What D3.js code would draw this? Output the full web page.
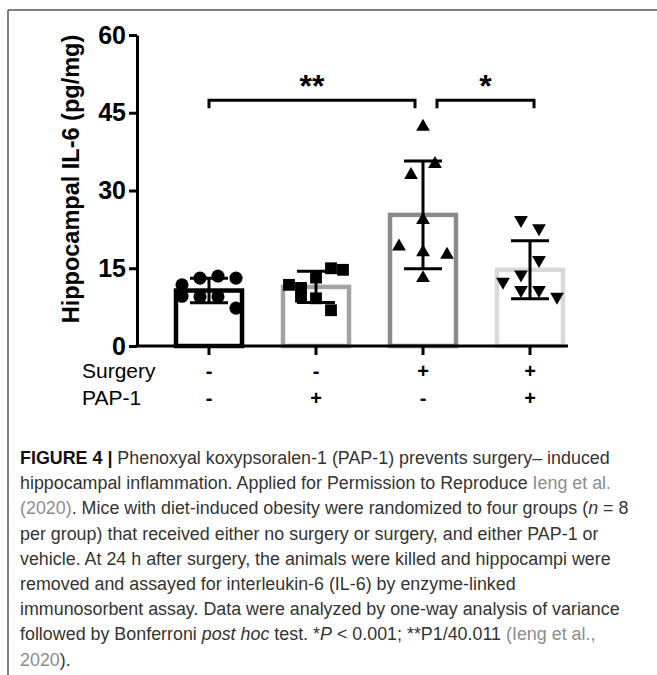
<!DOCTYPE html>
<html>
<head>
<meta charset="utf-8">
<script src="https://cdn.jsdelivr.net/npm/d3@7"></script>
<style>
  body { margin: 0; background: #fff; }
  svg { display: block; }
</style>
</head>
<body>
<div id="chart"></div>
<script>
// Groups and the treatment table under the x axis
const groups = ["Sham + Vehicle", "Sham + PAP-1", "Surgery + Vehicle", "Surgery + PAP-1"];
const surgeryRow = ["-", "-", "+", "+"];
const papRow = ["-", "+", "-", "+"];

// Bar height (mean) and error bar (SD), pg/mg
const means = [10.7, 11.4, 25.3, 14.7];
const sds = [2.35, 3.0, 10.4, 5.6];

// Individual animals (n = 8 per group)
const shamVehicle = [13.1, 13.5, 13.1, 11.8, 9.6, 9.5, 9.5, 7.3];
const shamPap = [11.8, 11.2, 13.2, 15.0, 14.7, 9.5, 9.2, 6.9];
const surgeryVehicle = [42.3, 35.1, 33.0, 24.3, 19.2, 18.1, 17.6, 13.1];
const surgeryPap = [24.3, 22.7, 16.6, 13.8, 12.4, 10.8, 10.8, 9.5];

// scatter column of each animal (Prism style spread, in half-marker steps)
const shamVehicleCol = [-1.5, 1.5, 4.5, -4.5, -4.5, -1.5, 1.5, 4.5];
const shamPapCol = [-4.5, -2.5, 0, 2.5, 4.5, -2.5, 0, 2.5];
const surgeryVehicleCol = [0, 2, -2, 0, -4, 0, 4, 0];
const surgeryPapCol = [-1.5, 1.5, 1.5, -1.5, -4.5, -1.5, 1.5, 4.5];

const yTicks = [0, 15, 30, 45, 60];

// significance brackets
const comparisons = [
  { from: 0, to: 2, label: "**" },
  { from: 2, to: 3, label: "*" }
];

document.addEventListener("DOMContentLoaded", function () {
  const W = 657, H = 675;

  const svg = d3.select("#chart")
    .append("svg")
    .attr("width", W)
    .attr("height", H);

  // frame of the figure (top and left edges only are visible)
  svg.append("line").attr("x1", 8).attr("x2", W).attr("y1", 10).attr("y2", 10)
    .attr("stroke", "#555").attr("stroke-width", 1.5);
  svg.append("line").attr("x1", 8).attr("x2", 8).attr("y1", 10).attr("y2", H)
    .attr("stroke", "#555").attr("stroke-width", 1.5);

  const font = "'Liberation Sans', Arial, Helvetica, sans-serif";

  // scales
  const y = d3.scaleLinear().domain([0, 60]).range([346, 35]);
  const x = d3.scalePoint().domain(d3.range(groups.length)).range([209, 530]);
  const axisLeftX = 137, axisRightX = 568;

  const barColors = ["#000000", "#a3a3a3", "#8a8a8a", "#d9d9d9"];
  const barW = 66;

  // bars
  svg.selectAll("rect.bar")
    .data(means)
    .join("rect")
    .attr("class", "bar")
    .attr("x", (d, i) => x(i) - barW / 2)
    .attr("y", d => y(d))
    .attr("width", barW)
    .attr("height", d => y(0) - y(d))
    .attr("fill", "#fff")
    .attr("stroke", (d, i) => barColors[i])
    .attr("stroke-width", 4.5);

  // individual points
  const pointSets = [shamVehicle, shamPap, surgeryVehicle, surgeryPap];
  const pointCols = [shamVehicleCol, shamPapCol, surgeryVehicleCol, surgeryPapCol];
  const symbols = [d3.symbolCircle, d3.symbolSquare, d3.symbolTriangle, d3.symbolTriangle];
  const symSize = [135, 140, 82, 82];
  const colStep = 6;

  const pts = [];
  pointSets.forEach((set, g) => {
    set.forEach((v, k) => pts.push({ g: g, v: v, c: pointCols[g][k] }));
  });

  svg.append("g")
    .selectAll("path")
    .data(pts)
    .join("path")
    .attr("d", d => d3.symbol().type(symbols[d.g]).size(symSize[d.g])())
    .attr("transform", d => `translate(${x(d.g) + d.c * colStep},${y(d.v)})` + (d.g === 3 ? " rotate(180)" : ""))
    .attr("fill", "#000");

  // error bars (mean +/- SD)
  const capW = 38;
  const eb = svg.append("g").attr("stroke", "#000").attr("stroke-width", 3);
  means.forEach((m, i) => {
    const top = y(m + sds[i]), bot = y(m - sds[i]);
    eb.append("line").attr("x1", x(i)).attr("x2", x(i)).attr("y1", top).attr("y2", bot);
    eb.append("line").attr("x1", x(i) - capW / 2).attr("x2", x(i) + capW / 2).attr("y1", top).attr("y2", top);
    eb.append("line").attr("x1", x(i) - capW / 2).attr("x2", x(i) + capW / 2).attr("y1", bot).attr("y2", bot);
  });

  // y axis
  const yAxis = svg.append("g")
    .attr("transform", `translate(${axisLeftX},0)`)
    .call(d3.axisLeft(y).tickValues(yTicks).tickSize(8).tickPadding(3).tickSizeOuter(0));
  yAxis.select(".domain").attr("stroke-width", 3).attr("stroke", "#000");
  yAxis.selectAll(".tick line").attr("stroke-width", 3).attr("stroke", "#000");
  yAxis.selectAll(".tick text")
    .attr("font-family", font)
    .attr("font-weight", "bold")
    .attr("font-size", 25)
    .attr("fill", "#000");

  // x axis line with a short tick under each bar
  svg.append("line")
    .attr("x1", axisLeftX - 1.5).attr("x2", axisRightX)
    .attr("y1", y(0)).attr("y2", y(0))
    .attr("stroke", "#000").attr("stroke-width", 3);
  svg.append("g")
    .selectAll("line")
    .data(groups)
    .join("line")
    .attr("x1", (d, i) => x(i)).attr("x2", (d, i) => x(i))
    .attr("y1", y(0)).attr("y2", y(0) + 9)
    .attr("stroke", "#000").attr("stroke-width", 3);

  // y axis title
  svg.append("text")
    .attr("transform", "translate(79,179) rotate(-90)")
    .attr("text-anchor", "middle")
    .attr("font-family", font)
    .attr("font-weight", "bold")
    .attr("font-size", 23.5)
    .attr("fill", "#000")
    .text("Hippocampal IL-6 (pg/mg)");

  // treatment table
  const rows = [["Surgery", surgeryRow, 378], ["PAP-1", papRow, 405]];
  rows.forEach(([name, signs, by]) => {
    svg.append("text")
      .attr("x", 82).attr("y", by)
      .attr("font-family", font).attr("font-size", 21)
      .attr("fill", "#000")
      .text(name);
    svg.append("g")
      .selectAll("text")
      .data(signs)
      .join("text")
      .attr("x", (d, i) => x(i)).attr("y", by)
      .attr("text-anchor", "middle")
      .attr("font-family", font).attr("font-weight", "bold").attr("font-size", 20)
      .attr("fill", "#000")
      .text(d => d);
  });

  // significance brackets
  const bracketY = y(47.4);
  const bracketInset = [[0, 8], [14, -4]];
  const br = svg.append("g");
  comparisons.forEach((c, i) => {
    const x1 = x(c.from) + bracketInset[i][0];
    const x2 = x(c.to) - bracketInset[i][1];
    br.append("path")
      .attr("d", `M${x1},${bracketY + 8}V${bracketY}H${x2}V${bracketY + 8}`)
      .attr("fill", "none").attr("stroke", "#000").attr("stroke-width", 3);
    br.append("text")
      .attr("x", (x1 + x2) / 2).attr("y", bracketY - 3)
      .attr("text-anchor", "middle")
      .attr("font-family", font).attr("font-weight", "bold").attr("font-size", 32)
      .attr("fill", "#000")
      .text(c.label);
  });

  // caption
  const capLines = [
    [["FIGURE 4 | ", "b"], ["Phenoxyal koxypsoralen-1 (PAP-1) prevents surgery\u2013 induced", "n"]],
    [["hippocampal inflammation. Applied for Permission to Reproduce ", "n"], ["Ieng et al.", "l"]],
    [["(2020)", "l"], [". Mice with diet-induced obesity were randomized to four groups (", "n"], ["n", "i"], [" = 8", "n"]],
    [["per group) that received either no surgery or surgery, and either PAP-1 or", "n"]],
    [["vehicle. At 24 h after surgery, the animals were killed and hippocampi were", "n"]],
    [["removed and assayed for interleukin-6 (IL-6) by enzyme-linked", "n"]],
    [["immunosorbent assay. Data were analyzed by one-way analysis of variance", "n"]],
    [["followed by Bonferroni ", "n"], ["post hoc", "i"], [" test. *", "n"], ["P", "i"], [" < 0.001; **P1/40.011 ", "n"], ["(Ieng et al.,", "l"]],
    [["2020", "l"], [").", "n"]]
  ];
  const capLeft = 20, capTop = 464, capStep = 25.2;
  const capRefLine = 6, capRefRight = 620;   // "...of variance" ends about here

  const capTexts = capLines.map(segs => {
    const t = svg.append("text")
      .attr("font-family", font)
      .attr("font-size", 19)
      .attr("fill", "#333");
    segs.forEach(([s, st]) => {
      const ts = t.append("tspan").text(s);
      if (st === "b") ts.attr("font-weight", "bold").attr("fill", "#111");
      if (st === "l") ts.attr("fill", "#8c8c8c");
      if (st === "i") ts.attr("font-style", "italic");
    });
    return t;
  });
  const sx = (capRefRight - capLeft) / capTexts[capRefLine].node().getComputedTextLength();
  capTexts.forEach((t, li) => {
    t.attr("transform", `translate(${capLeft},${capTop + li * capStep}) scale(${sx},1)`);
  });
});
</script>
</body>
</html>
